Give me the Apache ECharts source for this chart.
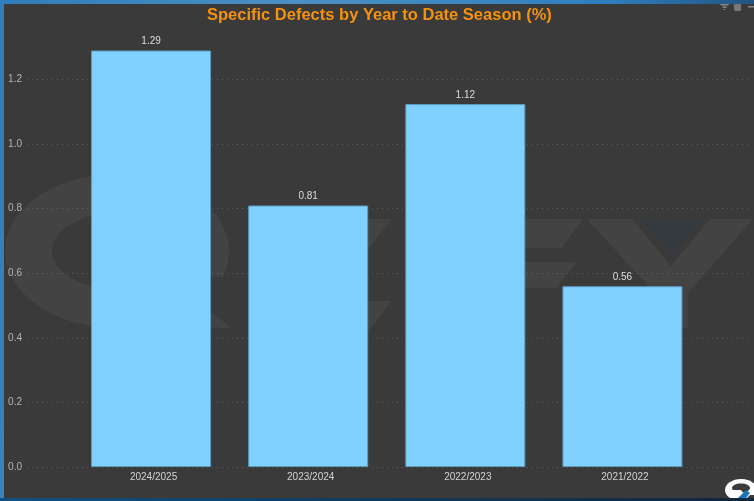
<!DOCTYPE html>
<html>
<head>
<meta charset="utf-8">
<style>
  html, body { margin: 0; width: 754px; height: 501px; overflow: hidden; }
  body { background: linear-gradient(100deg, #2f7dbb 0%, #4a90c2 35%, #2f7fc0 72%, #1b3a5c 100%); position: relative; }
  #panel { position: absolute; left: 4px; top: 4px; right: 0; bottom: 3px; background: #3a3a3a; }
  #strip { position: absolute; left: 0; right: 0; bottom: 0; height: 3px; background: linear-gradient(90deg, #14507f 0%, #123a5a 50%, #10283e 100%); }
  #main { position: absolute; left: 0; top: 0; width: 754px; height: 501px; }
</style>
<script src="https://cdn.jsdelivr.net/npm/echarts@6/dist/echarts.min.js"></script>
</head>
<body>
<div id="panel"></div>
<div id="strip"></div>
<div id="main"></div>
<script>
var seasons = ['2024/2025', '2023/2024', '2022/2023', '2021/2022'];
var defects = [1.29, 0.81, 1.124, 0.56];

var WM = '#434343'; // watermark grey
var BG = '#3a3a3a';
var fontName = '"Liberation Sans", Arial, sans-serif';

function poly(points, fill, z) {
  return { type: 'polygon', silent: true, z: z, shape: { points: points }, style: { fill: fill } };
}
function oval(cx, cy, rx, ry, fill, z) {
  return { type: 'ellipse', silent: true, z: z, shape: { cx: cx, cy: cy, rx: rx, ry: ry }, style: { fill: fill } };
}

// big faded logo behind the bars
var watermark = [
  oval(117, 251, 112, 77, WM, -10),
  oval(117, 251, 65, 38, BG, -9),
  poly([[205, 277], [240, 277], [240, 335], [205, 335]], BG, -9),
  poly([[195, 300], [232, 328], [205, 328]], WM, -8),
  poly([[300, 219], [392, 219], [369, 248], [300, 248]], WM, -8),
  poly([[300, 301], [392, 301], [369, 330], [300, 330]], WM, -8),
  poly([[480, 219], [583, 219], [562, 248], [480, 248]], WM, -8),
  poly([[480, 262], [577, 262], [556, 288], [480, 288]], WM, -8),
  poly([[587, 219], [632, 219], [671, 266], [710, 219], [753, 219], [688, 293], [688, 328], [650, 328], [650, 288]], WM, -8),
  poly([[642, 219], [702, 219], [672, 256]], '#343a40', -7)
];

// panel icons and corner logo
var chrome = [
  poly([[720, 4], [729, 4], [728, 5.5], [721, 5.5]], '#8a8a8a', 20),
  poly([[722, 6.5], [727, 6.5], [726, 8], [723, 8]], '#8a8a8a', 20),
  poly([[723.5, 9], [725.5, 9], [725, 10], [724, 10]], '#8a8a8a', 20),
  { type: 'rect', silent: true, z: 20, shape: { x: 734, y: 4, width: 7, height: 7, r: 1 }, style: { fill: '#777777' } },
  { type: 'rect', silent: true, z: 20, shape: { x: 748, y: 6, width: 6, height: 1.5 }, style: { fill: '#8a8a8a' } },
  oval(741, 490, 16, 11, '#ffffff', 20),
  oval(741, 488, 9, 4.5, BG, 21),
  poly([[732, 490], [741, 490], [747, 498], [737, 498]], '#ffffff', 22),
  poly([[746, 490], [750, 493], [746, 498], [738, 498]], '#1c74b8', 23),
  poly([[750, 495], [754, 495], [754, 498], [747, 498]], BG, 23),
  { type: 'rect', silent: true, z: 24, shape: { x: 720, y: 498, width: 34, height: 3 }, style: { fill: '#10283e' } }
];

var chart = echarts.init(document.getElementById('main'));

var option = {
  backgroundColor: 'transparent',
  animation: false,
  title: {
    text: 'Specific Defects by Year to Date Season (%)',
    left: 207,
    top: 7,
    padding: 0,
    textStyle: { color: '#f5920f', fontSize: 16.5, fontWeight: 'bold', fontFamily: fontName }
  },
  graphic: watermark.concat(chrome),
  // first grid holds the bars, the wider one only carries the long gridlines
  grid: [
    { left: 72.5, right: 53, top: 15, bottom: 34 },
    { left: 27, right: 4, top: 15, bottom: 34 }
  ],
  xAxis: [
    {
      type: 'category',
      gridIndex: 0,
      data: seasons,
      axisLine: { show: false },
      axisTick: { show: false },
      axisLabel: { color: '#d4d4d4', fontSize: 10, margin: 5, padding: [0, 0, 0, 5], fontFamily: fontName }
    },
    { type: 'category', gridIndex: 1, data: seasons, show: false }
  ],
  yAxis: [
    { type: 'value', gridIndex: 0, min: 0, max: 1.4, interval: 0.2, show: false, splitLine: { show: false } },
    {
      type: 'value',
      gridIndex: 1,
      min: 0,
      max: 1.4,
      interval: 0.2,
      axisLine: { show: false },
      axisTick: { show: false },
      axisLabel: {
        color: '#b4b4b4',
        fontSize: 10,
        margin: 5,
        showMaxLabel: false,
        fontFamily: fontName,
        formatter: function (v) { return v.toFixed(1); }
      },
      splitLine: {
        show: true,
        showMaxLine: false,
        lineStyle: { color: 'rgba(255,255,255,0.16)', type: [1, 4], width: 1 }
      }
    }
  ],
  series: [
    {
      type: 'bar',
      xAxisIndex: 0,
      yAxisIndex: 0,
      data: defects,
      barWidth: 120,
      itemStyle: { color: '#80d1ff', borderColor: '#5a9cc0', borderWidth: 1 },
      label: {
        show: true,
        position: 'top',
        distance: 4,
        color: '#dddddd',
        fontSize: 10,
        fontFamily: fontName,
        formatter: function (p) { return p.value.toFixed(2); }
      }
    }
  ]
};

chart.setOption(option);
</script>
</body>
</html>
